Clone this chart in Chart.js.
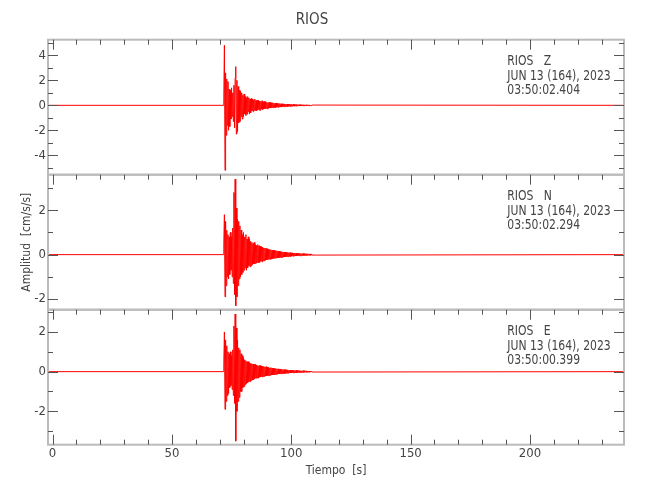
<!DOCTYPE html>
<html lang="es">
<head>
<meta charset="UTF-8">
<title>RIOS</title>
<script src="https://cdn.jsdelivr.net/npm/chart.js"></script>
<style>
  html, body { margin: 0; padding: 0; background: #fff; }
  .chart-box { width: 650px; height: 500px; }
</style>
</head>
<body>
<div class="chart-box"><canvas id="chart-rios" width="650" height="500"></canvas></div>
<script>
const stationName = "RIOS";
const components = ["Z", "N", "E"];
const recordDate = "JUN 13 (164), 2023";
const startTimes = ["03:50:02.404", "03:50:02.294", "03:50:00.399"];

// time span of the record (s) and sampling of the strong-motion part
const recordStart = -1.9;
const recordEnd = 239.4;
const eventStart = 71.5;
const sampleStep = 0.25;

// acceleration, cm/s/s
const accelZ = [
  0.0, 0.6, 4.8, -5.2, 2.6, -2.4, 2.1, -1.6, 1.9, -2.0,
  1.3, -1.7, 1.2, -1.1, 1.4, -0.9, 1.0, -1.3, 1.6, -1.8,
  2.2, 3.1, -2.3, 2.0, -2.1, 1.5, -1.4, 1.2, -1.3, 1.1,
  -0.9, 1.0, -1.1, 0.8, -0.9, 0.9, -0.7, 0.7, -0.8, 0.6,
  -0.7, 0.7, -0.5, 0.6, -0.7, 0.5, -0.6, 0.55, -0.45, 0.5,
  -0.5, 0.45, -0.4, 0.5, -0.42, 0.38, -0.45, 0.4, -0.35, 0.42,
  -0.38, 0.35, -0.4, 0.32, -0.3, 0.36, -0.33, 0.28, -0.3, 0.3,
  -0.27, 0.3, -0.25, 0.24, -0.28, 0.22, -0.24, 0.25, -0.2, 0.22,
  -0.22, 0.2, -0.18, 0.21, -0.19, 0.17, -0.2, 0.16, -0.17, 0.18,
  -0.15, 0.16, -0.16, 0.14, -0.13, 0.15, -0.14, 0.12, -0.13, 0.12,
  -0.11, 0.12, -0.12, 0.1, -0.1, 0.11, -0.09, 0.1, -0.1, 0.09,
  -0.08, 0.09, -0.09, 0.08, -0.07, 0.08, -0.08, 0.07, -0.06, 0.07,
  -0.07, 0.06, -0.06, 0.07, -0.05, 0.06, -0.06, 0.05, -0.05, 0.05,
  -0.05, 0.04, -0.05, 0.04, -0.04, 0.05, -0.04, 0.04, -0.03, 0.04,
  -0.04, 0.03, -0.03, 0.04, -0.03, 0.03, -0.03, 0.02, -0.03, 0.02,
];
const accelN = [
  0.0, 0.5, 1.8, -1.9, 1.5, -1.4, 1.1, -1.0, 0.9, -1.1,
  0.8, -0.9, 1.0, -0.7, 0.8, -1.0, 1.2, -1.3, 2.8, -1.8,
  3.4, -2.3, 2.1, -1.9, 1.6, -1.4, 1.5, -1.1, 1.3, -1.0,
  1.1, -0.9, 0.9, -0.8, 1.0, -0.7, 0.8, -0.6, 0.9, -0.7,
  0.7, -0.6, 0.8, -0.5, 0.7, -0.55, 0.6, -0.5, 0.55, -0.45,
  0.5, -0.4, 0.55, -0.42, 0.45, -0.38, 0.42, -0.35, 0.45, -0.36,
  0.4, -0.35, 0.38, -0.3, 0.36, -0.32, 0.34, -0.28, 0.3, -0.28,
  0.3, -0.25, 0.28, -0.24, 0.26, -0.22, 0.25, -0.2, 0.23, -0.21,
  0.22, -0.2, 0.2, -0.18, 0.21, -0.17, 0.19, -0.16, 0.18, -0.15,
  0.17, -0.15, 0.16, -0.14, 0.15, -0.13, 0.14, -0.13, 0.13, -0.12,
  0.12, -0.11, 0.12, -0.1, 0.11, -0.1, 0.1, -0.09, 0.1, -0.09,
  0.09, -0.08, 0.09, -0.08, 0.08, -0.07, 0.08, -0.07, 0.07, -0.06,
  0.07, -0.06, 0.06, -0.06, 0.06, -0.05, 0.06, -0.05, 0.05, -0.05,
  0.05, -0.05, 0.05, -0.04, 0.05, -0.04, 0.04, -0.04, 0.04, -0.04,
  0.04, -0.03, 0.04, -0.03, 0.03, -0.03, 0.03, -0.03, 0.03, -0.02,
];
const accelE = [
  0.0, 0.4, 2.0, -1.9, 1.6, -1.5, 1.3, -1.2, 1.0, -1.1,
  0.9, -0.8, 1.0, -0.7, 0.8, -0.9, 1.1, -1.2, 2.3, -1.6,
  2.9, -3.5, 2.2, -2.0, 1.6, -1.5, 1.2, -1.3, 1.1, -1.0,
  0.9, -1.0, 0.8, -0.8, 0.7, -0.75, 0.6, -0.65, 0.55, -0.6,
  0.5, -0.55, 0.5, -0.5, 0.45, -0.5, 0.42, -0.45, 0.4, -0.42,
  0.38, -0.4, 0.36, -0.35, 0.38, -0.33, 0.34, -0.32, 0.3, -0.33,
  0.3, -0.28, 0.31, -0.27, 0.28, -0.26, 0.27, -0.25, 0.26, -0.24,
  0.24, -0.22, 0.25, -0.21, 0.22, -0.2, 0.21, -0.2, 0.19, -0.18,
  0.2, -0.17, 0.18, -0.16, 0.17, -0.16, 0.15, -0.15, 0.16, -0.14,
  0.14, -0.13, 0.14, -0.12, 0.13, -0.12, 0.12, -0.11, 0.12, -0.1,
  0.11, -0.1, 0.1, -0.09, 0.1, -0.09, 0.09, -0.08, 0.09, -0.08,
  0.08, -0.07, 0.08, -0.07, 0.07, -0.07, 0.07, -0.06, 0.07, -0.06,
  0.06, -0.06, 0.06, -0.05, 0.06, -0.05, 0.05, -0.05, 0.05, -0.04,
  0.05, -0.04, 0.04, -0.04, 0.05, -0.04, 0.04, -0.03, 0.04, -0.03,
  0.04, -0.03, 0.03, -0.03, 0.03, -0.03, 0.03, -0.02, 0.02, -0.02,
];

const timeTicks = [0, 50, 100, 150, 200];
const ticksZ = [-4, -2, 0, 2, 4];
const ticksN = [-2, 0, 2];
const ticksE = [-2, 0, 2];

const fontName = "'DejaVu Sans Condensed', 'DejaVu Sans', sans-serif";
const textColor = "#444";

function tracePoints(values) {
  const points = [{ x: recordStart, y: 0 }];
  values.forEach(function (v, i) {
    points.push({ x: eventStart + i * sampleStep, y: v });
  });
  points.push({ x: recordEnd, y: 0 });
  return points;
}

function traceDataset(values, axisId) {
  return {
    data: tracePoints(values),
    yAxisID: axisId,
    borderColor: "#ff0000",
    borderWidth: 1,
    pointRadius: 0,
    tension: 0,
  };
}

function panelAxis(min, max, ticks, title) {
  return {
    type: "linear",
    position: "left",
    stack: "rios",
    stackWeight: 1,
    min: min,
    max: max,
    afterBuildTicks: (scale) => {
      scale.ticks = ticks.map((v) => ({ value: v }));
    },
    afterFit: (scale) => {
      scale.width = 48;
    },
    grid: { display: false, drawTicks: false },
    border: { display: false },
    ticks: { padding: 2, color: textColor, font: { size: 13 } },
    title: {
      display: !!title,
      text: title,
      color: textColor,
      font: { size: 12 },
      padding: { top: 20, bottom: 0 },
    },
  };
}

// frame, inward ticks and the station labels of each panel
const seismoFrame = {
  id: "seismoFrame",
  afterDatasetsDraw(chart) {
    const c = chart.ctx;
    const x = chart.scales.x;
    const panels = ["yZ", "yN", "yE"].map((id) => chart.scales[id]);
    c.save();

    c.strokeStyle = "#bbbbbb";
    c.lineWidth = 2;
    panels.forEach(function (y) {
      c.strokeRect(x.left, y.top, x.right - x.left, y.bottom - y.top);
    });

    c.strokeStyle = "#555";
    c.lineWidth = 1;
    c.beginPath();
    panels.forEach(function (y, p) {
      for (let t = 0; t <= x.max; t += 10) {
        const px = Math.round(x.getPixelForValue(t)) + 0.5;
        const len = t % 50 === 0 ? 10 : 5;
        c.moveTo(px, y.top);
        c.lineTo(px, y.top + len);
        if (p === panels.length - 1) {
          c.moveTo(px, y.bottom);
          c.lineTo(px, y.bottom - len);
        }
      }
      for (let v = Math.ceil(y.min); v <= Math.floor(y.max); v++) {
        const py = Math.round(y.getPixelForValue(v)) + 0.5;
        const len = v % 2 === 0 ? 10 : 5;
        c.moveTo(x.left, py);
        c.lineTo(x.left + len, py);
        c.moveTo(x.right, py);
        c.lineTo(x.right - len, py);
      }
    });
    c.stroke();

    // narrow, tall lettering like the original plot
    c.fillStyle = textColor;
    c.font = "14px " + fontName;
    c.textBaseline = "middle";
    c.textAlign = "left";
    const tx = x.getPixelForValue(190.5);
    panels.forEach(function (y, p) {
      const lines = [stationName + "   " + components[p], recordDate, startTimes[p]];
      lines.forEach(function (line, k) {
        c.save();
        c.translate(tx, y.top + 22 + k * 14.5);
        c.scale(0.86, 1);
        c.fillText(line, 0, 0);
        c.restore();
      });
    });
    c.restore();
  },
};

const ctx = document.getElementById("chart-rios").getContext("2d");
Chart.defaults.font.family = fontName;
Chart.defaults.color = textColor;

function createChart() {
  return new Chart(ctx, {
    type: "line",
    data: {
      datasets: [
        traceDataset(accelZ, "yZ"),
        traceDataset(accelN, "yN"),
        traceDataset(accelE, "yE"),
      ],
    },
    options: {
      responsive: false,
      animation: false,
      layout: { padding: { left: 0, right: 26, top: 0, bottom: 0 } },
      plugins: {
        legend: { display: false },
        tooltip: { enabled: false },
        title: {
          display: true,
          text: stationName,
          color: textColor,
          font: { size: 15, weight: "normal" },
          padding: { top: 11, bottom: 10.7 },
        },
      },
      scales: {
        x: {
          type: "linear",
          position: "bottom",
          min: recordStart,
          max: recordEnd,
          afterBuildTicks: (scale) => {
            scale.ticks = timeTicks.map((v) => ({ value: v }));
          },
          afterFit: (scale) => {
            scale.height = 55.3;
          },
          grid: { display: false, drawTicks: false },
          border: { display: false },
          ticks: { padding: 1, color: textColor, font: { size: 13 }, maxRotation: 0 },
          title: {
            display: true,
            text: "Tiempo  [s]",
            color: textColor,
            font: { size: 12 },
            padding: { top: 0, bottom: 22 },
          },
        },
        // stacked scales are laid out bottom-up
        yE: panelAxis(-3.68, 3.12, ticksE, ""),
        yN: panelAxis(-2.48, 3.6, ticksN, "Amplitud  [cm/s/s]"),
        yZ: panelAxis(-5.55, 5.25, ticksZ, ""),
      },
    },
    plugins: [seismoFrame],
  });
}

createChart();
</script>
</body>
</html>
